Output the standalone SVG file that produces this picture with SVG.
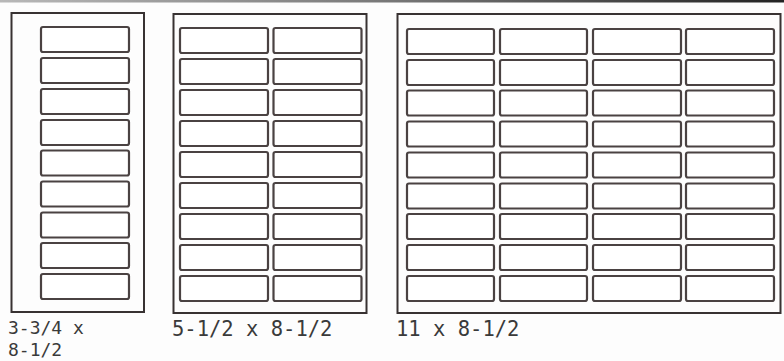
<svg xmlns="http://www.w3.org/2000/svg" width="784" height="361" viewBox="0 0 784 361">
<defs>
<linearGradient id="topband" x1="0" y1="0" x2="1" y2="0">
<stop offset="0" stop-color="#b8b8b8"/>
<stop offset="0.5" stop-color="#777"/>
<stop offset="1" stop-color="#222"/>
</linearGradient>
<style>
.sheet{fill:none;stroke:#383232;stroke-width:2}
.lbl{fill:#fff;stroke:#4a4242;stroke-width:2.2}
.cap{font-family:"DejaVu Sans Mono","Liberation Mono",monospace;font-size:20.5px;fill:#3a3a3a}
.cap2{font-family:"DejaVu Sans Mono","Liberation Mono",monospace;font-size:18px;fill:#3a3a3a}
</style>
</defs>
<rect x="0" y="0" width="784" height="361" fill="#fdfdfd"/>
<rect x="0" y="0" width="784" height="2.5" fill="url(#topband)"/>

<g id="sheet-3-3-4">
<rect class="sheet" x="11.5" y="13" width="132.5" height="299"/>
<g>
<rect class="lbl" x="41" y="27" width="88" height="25" rx="2"/>
<rect class="lbl" x="41" y="58" width="88" height="25" rx="2"/>
<rect class="lbl" x="41" y="89" width="88" height="25" rx="2"/>
<rect class="lbl" x="41" y="120" width="88" height="25" rx="2"/>
<rect class="lbl" x="41" y="150.5" width="88" height="25" rx="2"/>
<rect class="lbl" x="41" y="181.5" width="88" height="25" rx="2"/>
<rect class="lbl" x="41" y="212.5" width="88" height="25" rx="2"/>
<rect class="lbl" x="41" y="243" width="88" height="25" rx="2"/>
<rect class="lbl" x="41" y="274" width="88" height="25" rx="2"/>
</g>
<text class="cap2" x="8" y="334">3-3/4 x</text>
<text class="cap2" x="8" y="356">8-1/2</text>
</g>

<g id="sheet-5-1-2">
<rect class="sheet" x="173.5" y="14" width="193" height="299"/>
<g>
<rect class="lbl" x="180" y="28" width="88" height="25" rx="2"/>
<rect class="lbl" x="273.5" y="28" width="88" height="25" rx="2"/>
<rect class="lbl" x="180" y="59" width="88" height="25" rx="2"/>
<rect class="lbl" x="273.5" y="59" width="88" height="25" rx="2"/>
<rect class="lbl" x="180" y="90" width="88" height="25" rx="2"/>
<rect class="lbl" x="273.5" y="90" width="88" height="25" rx="2"/>
<rect class="lbl" x="180" y="121" width="88" height="25" rx="2"/>
<rect class="lbl" x="273.5" y="121" width="88" height="25" rx="2"/>
<rect class="lbl" x="180" y="152" width="88" height="25" rx="2"/>
<rect class="lbl" x="273.5" y="152" width="88" height="25" rx="2"/>
<rect class="lbl" x="180" y="183" width="88" height="25" rx="2"/>
<rect class="lbl" x="273.5" y="183" width="88" height="25" rx="2"/>
<rect class="lbl" x="180" y="214" width="88" height="25" rx="2"/>
<rect class="lbl" x="273.5" y="214" width="88" height="25" rx="2"/>
<rect class="lbl" x="180" y="245" width="88" height="25" rx="2"/>
<rect class="lbl" x="273.5" y="245" width="88" height="25" rx="2"/>
<rect class="lbl" x="180" y="276" width="88" height="25" rx="2"/>
<rect class="lbl" x="273.5" y="276" width="88" height="25" rx="2"/>
</g>
<text class="cap" x="172" y="336">5-1/2 x 8-1/2</text>
</g>

<g id="sheet-11">
<rect class="sheet" x="397.5" y="14" width="383" height="299"/>
<g>
<rect class="lbl" x="407" y="29" width="87" height="25" rx="2"/>
<rect class="lbl" x="500" y="29" width="87" height="25" rx="2"/>
<rect class="lbl" x="593" y="29" width="88" height="25" rx="2"/>
<rect class="lbl" x="686" y="29" width="88" height="25" rx="2"/>
<rect class="lbl" x="407" y="60" width="87" height="25" rx="2"/>
<rect class="lbl" x="500" y="60" width="87" height="25" rx="2"/>
<rect class="lbl" x="593" y="60" width="88" height="25" rx="2"/>
<rect class="lbl" x="686" y="60" width="88" height="25" rx="2"/>
<rect class="lbl" x="407" y="90.5" width="87" height="25" rx="2"/>
<rect class="lbl" x="500" y="90.5" width="87" height="25" rx="2"/>
<rect class="lbl" x="593" y="90.5" width="88" height="25" rx="2"/>
<rect class="lbl" x="686" y="90.5" width="88" height="25" rx="2"/>
<rect class="lbl" x="407" y="121.5" width="87" height="25" rx="2"/>
<rect class="lbl" x="500" y="121.5" width="87" height="25" rx="2"/>
<rect class="lbl" x="593" y="121.5" width="88" height="25" rx="2"/>
<rect class="lbl" x="686" y="121.5" width="88" height="25" rx="2"/>
<rect class="lbl" x="407" y="152.5" width="87" height="25" rx="2"/>
<rect class="lbl" x="500" y="152.5" width="87" height="25" rx="2"/>
<rect class="lbl" x="593" y="152.5" width="88" height="25" rx="2"/>
<rect class="lbl" x="686" y="152.5" width="88" height="25" rx="2"/>
<rect class="lbl" x="407" y="183.5" width="87" height="25" rx="2"/>
<rect class="lbl" x="500" y="183.5" width="87" height="25" rx="2"/>
<rect class="lbl" x="593" y="183.5" width="88" height="25" rx="2"/>
<rect class="lbl" x="686" y="183.5" width="88" height="25" rx="2"/>
<rect class="lbl" x="407" y="214" width="87" height="25" rx="2"/>
<rect class="lbl" x="500" y="214" width="87" height="25" rx="2"/>
<rect class="lbl" x="593" y="214" width="88" height="25" rx="2"/>
<rect class="lbl" x="686" y="214" width="88" height="25" rx="2"/>
<rect class="lbl" x="407" y="245" width="87" height="25" rx="2"/>
<rect class="lbl" x="500" y="245" width="87" height="25" rx="2"/>
<rect class="lbl" x="593" y="245" width="88" height="25" rx="2"/>
<rect class="lbl" x="686" y="245" width="88" height="25" rx="2"/>
<rect class="lbl" x="407" y="276" width="87" height="25" rx="2"/>
<rect class="lbl" x="500" y="276" width="87" height="25" rx="2"/>
<rect class="lbl" x="593" y="276" width="88" height="25" rx="2"/>
<rect class="lbl" x="686" y="276" width="88" height="25" rx="2"/>
</g>
<text class="cap" x="396" y="336">11 x 8-1/2</text>
</g>
</svg>
